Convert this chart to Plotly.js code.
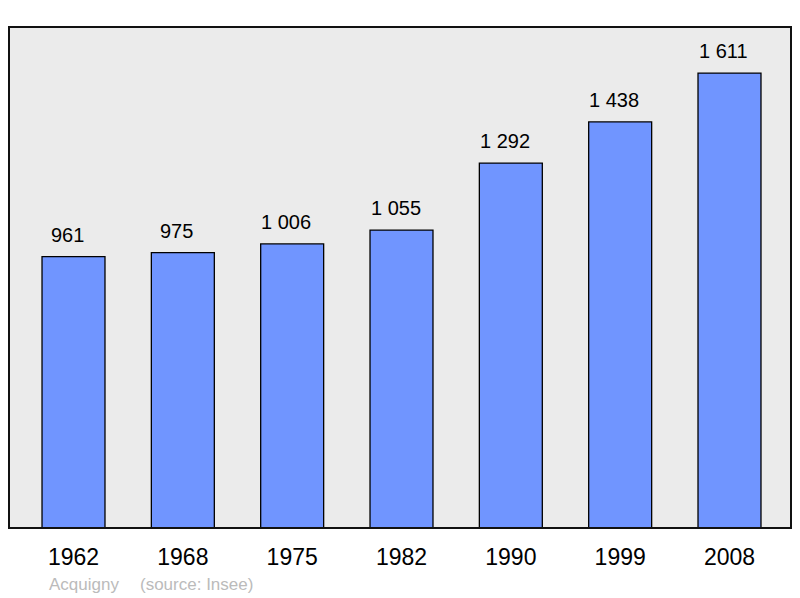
<!DOCTYPE html>
<html>
<head>
<meta charset="utf-8">
<script src="https://cdn.plot.ly/plotly-3.0.1.min.js"></script>
<style>html,body{margin:0;padding:0;background:#fff;}</style>
</head>
<body>
<div id="chart" style="width:800px;height:598px;"></div>
<script>
const years = ["1962", "1968", "1975", "1982", "1990", "1999", "2008"];
const population = [961, 975, 1006, 1055, 1292, 1438, 1611];
const footerPlace = "Acquigny";
const footerSource = "(source: Insee)";

function fmt(v) {
  return String(v).replace(/\B(?=(\d{3})+(?!\d))/g, "\u00a0");
}

const FONT = "Liberation Sans, Arial, sans-serif";

const trace = {
  type: "bar",
  x: years,
  y: population,
  width: 0.576,
  marker: {color: "#7095ff", line: {color: "#000000", width: 1.3}},
  hoverinfo: "none"
};

const annotations = years.map((yr, i) => ({
  x: i, y: population[i], xref: "x", yref: "y",
  text: fmt(population[i]), showarrow: false,
  yanchor: "bottom", yshift: 9, xshift: -6,
  font: {family: FONT, size: 20, color: "#000"}
}));
annotations.push({
  xref: "paper", yref: "paper", x: 0.0486, y: -0.1118,
  xanchor: "left", yanchor: "middle", showarrow: false,
  text: footerPlace,
  font: {family: FONT, size: 17, color: "#bbbbbb"}
});
annotations.push({
  xref: "paper", yref: "paper", x: 0.165, y: -0.1118,
  xanchor: "left", yanchor: "middle", showarrow: false,
  text: footerSource,
  font: {family: FONT, size: 17, color: "#bbbbbb"}
});

const layout = {
  width: 800, height: 598,
  margin: {l: 9, r: 9, t: 27, b: 70, pad: 0},
  paper_bgcolor: "#ffffff",
  plot_bgcolor: "#ebebeb",
  showlegend: false,
  xaxis: {
    type: "category",
    range: [-0.59, 6.5625],
    showgrid: false, zeroline: false, showline: false,
    ticks: "", ticklabelstandoff: 13,
    tickfont: {family: FONT, size: 23, color: "#000"},
    fixedrange: true
  },
  yaxis: {
    range: [0, 1774],
    showgrid: false, zeroline: false, showline: false,
    showticklabels: false, ticks: "",
    fixedrange: true
  },
  shapes: [{
    type: "rect", xref: "paper", yref: "paper",
    x0: 0, x1: 1, y0: 0, y1: 1,
    line: {color: "#111111", width: 2},
    fillcolor: "rgba(0,0,0,0)", layer: "above"
  }],
  annotations: annotations
};

Plotly.newPlot("chart", [trace], layout, {displayModeBar: false, staticPlot: true});
</script>
</body>
</html>
